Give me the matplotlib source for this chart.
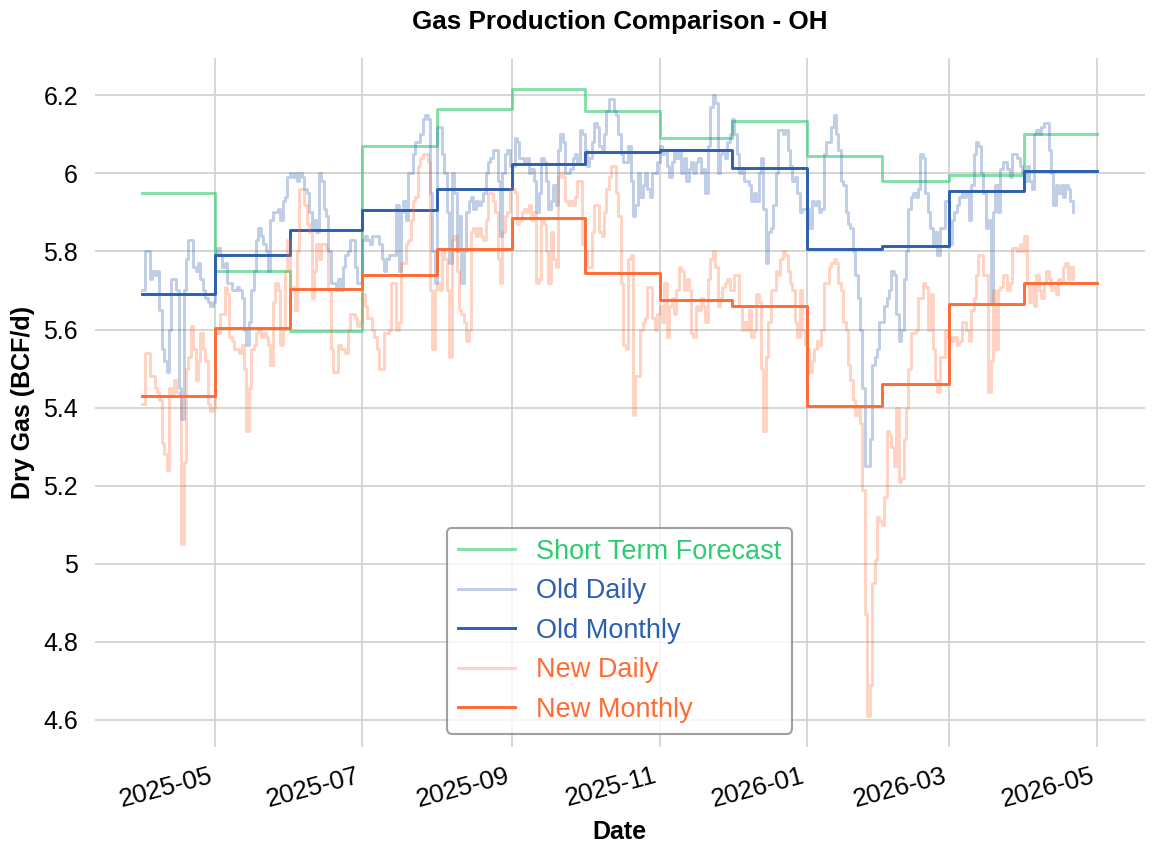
import numpy as np
import pandas as pd
import matplotlib
matplotlib.use("Agg")
import matplotlib.pyplot as plt
import matplotlib.dates as mdates
from matplotlib.ticker import FuncFormatter

plt.rcParams['font.family'] = ['Liberation Sans', 'DejaVu Sans']

# miesiące (początek) + wartości miesięczne
months = pd.date_range('2025-04-01', '2026-04-01', freq='MS')
stf_monthly = [5.95, 5.75, 5.595, 6.07, 6.165, 6.215, 6.16, 6.09, 6.135, 6.045, 5.98, 5.995, 6.10]
old_monthly = [5.69, 5.79, 5.855, 5.905, 5.96, 6.025, 6.055, 6.06, 6.015, 5.805, 5.815, 5.955, 6.005]
new_monthly = [5.43, 5.605, 5.705, 5.74, 5.805, 5.885, 5.745, 5.675, 5.66, 5.405, 5.46, 5.665, 5.72]

# dzienne, od 2025-04-01
old_daily = [
    # kwi 2025
    5.70, 5.80, 5.80, 5.73, 5.75, 5.74, 5.75, 5.65, 5.55, 5.52, 5.49, 5.60, 5.73, 5.73, 5.70,
    5.45, 5.37, 5.70, 5.78, 5.83, 5.83, 5.76, 5.75, 5.77, 5.73, 5.70, 5.68, 5.67, 5.66, 5.67,
    # maj
    5.79, 5.81, 5.79, 5.76, 5.77, 5.72, 5.72, 5.70, 5.70, 5.71, 5.70, 5.68, 5.60, 5.56, 5.62,
    5.70, 5.75, 5.83, 5.86, 5.84, 5.82, 5.80, 5.75, 5.88, 5.90, 5.90, 5.91, 5.88, 5.93, 5.94, 5.99,
    # cze
    6.00, 5.99, 6.00, 5.98, 6.00, 5.99, 5.96, 5.95, 5.90, 5.86, 5.88, 5.85, 6.00, 5.98, 5.91,
    5.89, 5.80, 5.72, 5.72, 5.70, 5.73, 5.70, 5.76, 5.79, 5.80, 5.83, 5.83, 5.76, 5.72, 5.72,
    # lip
    5.83, 5.84, 5.83, 5.82, 5.84, 5.84, 5.84, 5.82, 5.78, 5.75, 5.78, 5.79, 5.79, 5.79, 5.92,
    5.75, 5.90, 5.93, 5.88, 6.00, 6.00, 6.05, 6.08, 6.08, 6.10, 6.14, 6.15, 6.14, 5.95, 5.80, 5.72,
    # sie
    6.12, 6.12, 6.05, 6.00, 5.90, 5.77, 6.00, 5.95, 5.80, 5.89, 5.72, 5.80, 5.90, 5.93, 5.94,
    5.91, 5.93, 5.92, 5.93, 5.95, 6.00, 6.03, 6.04, 6.06, 6.06, 5.98, 5.84, 6.00, 6.05, 6.06, 6.02,
    # wrz
    6.02, 6.09, 6.08, 6.04, 6.04, 6.03, 6.04, 6.00, 6.01, 5.98, 5.90, 5.95, 6.04, 6.03, 5.98,
    5.91, 5.93, 5.97, 5.92, 6.06, 6.10, 6.08, 6.00, 6.00, 6.01, 6.04, 6.05, 6.03, 6.11, 6.10,
    # paź
    6.06, 6.02, 6.04, 6.08, 6.13, 6.12, 6.07, 6.06, 6.10, 6.16, 6.19, 6.19, 6.16, 6.15, 6.10,
    6.05, 6.03, 6.03, 6.07, 5.98, 5.89, 5.92, 6.00, 5.94, 5.97, 6.00, 5.96, 5.94, 6.00, 6.00, 6.03,
    # lis
    6.07, 6.05, 6.06, 6.02, 5.99, 6.03, 6.06, 6.04, 6.06, 6.00, 6.04, 5.98, 6.01, 6.03, 6.00,
    6.03, 6.04, 6.00, 6.01, 5.95, 6.07, 6.17, 6.20, 6.18, 6.00, 6.05, 6.06, 6.04, 6.08, 6.10,
    # gru
    6.14, 6.10, 6.05, 6.00, 6.01, 5.98, 5.98, 5.97, 5.93, 5.95, 5.93, 6.00, 6.04, 5.91, 5.77,
    5.85, 5.86, 5.92, 6.00, 6.11, 6.11, 6.10, 6.11, 6.06, 6.02, 5.98, 5.99, 5.95, 5.90, 5.91, 5.91,
    # sty 2026
    5.91, 5.86, 5.93, 5.92, 5.93, 5.90, 5.91, 6.05, 6.08, 6.08, 6.12, 6.15, 6.10, 6.06, 5.98,
    5.97, 5.90, 5.87, 5.86, 5.80, 5.74, 5.68, 5.60, 5.45, 5.25, 5.25, 5.32, 5.51, 5.53, 5.55, 5.62,
    # lut
    5.62, 5.66, 5.68, 5.70, 5.75, 5.74, 5.64, 5.57, 5.60, 5.73, 5.80, 5.91, 5.94, 5.95,
    5.94, 5.96, 6.05, 6.04, 5.95, 5.90, 5.86, 5.82, 5.85, 5.79, 5.86, 5.86, 5.93, 5.93,
    # mar
    5.82, 5.88, 5.90, 5.92, 5.94, 5.95, 5.94, 5.95, 5.88, 5.97, 6.05, 6.08, 6.07, 6.00, 5.95,
    5.86, 5.88, 5.67, 5.90, 5.97, 5.90, 6.01, 6.03, 6.03, 6.01, 5.99, 6.05, 6.05, 6.04, 6.02, 6.00,
    # kwi
    5.98, 6.02, 5.98, 5.96, 6.10, 6.11, 6.10, 6.12, 6.13, 6.13, 6.06, 6.00, 5.92, 5.97, 5.95,
    5.97, 5.94, 5.97, 5.96, 5.93, 5.90,
]

new_daily = [
    # kwi 2025
    5.41, 5.54, 5.54, 5.48, 5.48, 5.45, 5.44, 5.42, 5.31, 5.28, 5.24, 5.45, 5.43, 5.47, 5.44,
    5.43, 5.05, 5.26, 5.50, 5.53, 5.61, 5.55, 5.47, 5.52, 5.59, 5.55, 5.52, 5.41, 5.39, 5.40,
    # maj
    5.60, 5.59, 5.64, 5.64, 5.71, 5.69, 5.58, 5.57, 5.55, 5.55, 5.54, 5.56, 5.50, 5.34, 5.45,
    5.55, 5.56, 5.59, 5.60, 5.58, 5.59, 5.58, 5.56, 5.51, 5.67, 5.72, 5.70, 5.56, 5.60, 5.75, 5.83,
    # cze
    5.70, 5.71, 5.65, 5.80, 5.96, 5.96, 5.92, 5.87, 5.85, 5.68, 5.75, 5.82, 5.78, 5.82, 5.82,
    5.81, 5.70, 5.55, 5.49, 5.49, 5.56, 5.55, 5.55, 5.54, 5.60, 5.64, 5.64, 5.63, 5.61, 5.62,
    # lip
    5.69, 5.66, 5.63, 5.63, 5.60, 5.58, 5.55, 5.50, 5.50, 5.59, 5.59, 5.60, 5.72, 5.72, 5.60,
    5.62, 5.77, 5.77, 5.82, 5.83, 5.88, 5.93, 5.94, 6.02, 6.04, 6.05, 6.05, 6.03, 5.70, 5.55, 5.70,
    # sie
    5.72, 5.70, 5.80, 5.78, 5.70, 5.53, 5.83, 5.84, 5.75, 5.65, 5.64, 5.62, 5.57, 5.60, 5.85,
    5.86, 5.84, 5.86, 5.84, 5.83, 5.88, 5.95, 5.95, 5.93, 5.90, 5.78, 5.72, 5.85, 5.89, 5.90, 5.96,
    # wrz
    5.96, 5.95, 5.87, 5.88, 5.90, 5.91, 5.90, 5.92, 5.88, 5.90, 5.72, 5.73, 5.88, 5.87, 5.80,
    5.72, 5.85, 5.78, 5.76, 5.99, 6.00, 5.99, 5.93, 5.92, 5.93, 5.92, 5.94, 5.98, 5.98, 5.82,
    # paź
    5.80, 5.76, 5.76, 5.85, 5.92, 5.92, 5.85, 5.84, 5.90, 5.96, 5.99, 6.02, 6.02, 5.95, 5.89,
    5.72, 5.56, 5.55, 5.78, 5.79, 5.38, 5.48, 5.48, 5.60, 5.62, 5.63, 5.71, 5.71, 5.63, 5.60, 5.64,
    # lis
    5.66, 5.62, 5.72, 5.58, 5.66, 5.68, 5.64, 5.70, 5.76, 5.75, 5.70, 5.73, 5.70, 5.59, 5.58,
    5.66, 5.65, 5.68, 5.66, 5.62, 5.73, 5.78, 5.80, 5.76, 5.66, 5.68, 5.71, 5.72, 5.73, 5.70,
    # gru
    5.70, 5.74, 5.74, 5.66, 5.60, 5.62, 5.60, 5.65, 5.58, 5.60, 5.69, 5.67, 5.50, 5.34, 5.53,
    5.62, 5.70, 5.70, 5.75, 5.74, 5.78, 5.80, 5.79, 5.75, 5.72, 5.70, 5.62, 5.58, 5.70, 5.60, 5.56,
    # sty 2026
    5.55, 5.49, 5.52, 5.55, 5.57, 5.56, 5.60, 5.72, 5.72, 5.76, 5.77, 5.78, 5.77, 5.72, 5.70,
    5.62, 5.60, 5.51, 5.47, 5.42, 5.38, 5.40, 5.36, 5.19, 4.87, 4.61, 4.69, 4.95, 5.01, 5.12, 5.11,
    # lut
    5.10, 5.17, 5.34, 5.33, 5.30, 5.25, 5.40, 5.21, 5.22, 5.32, 5.40, 5.50, 5.59, 5.59,
    5.60, 5.68, 5.68, 5.72, 5.71, 5.60, 5.69, 5.55, 5.47, 5.44, 5.53, 5.53, 5.60, 5.58,
    # mar
    5.58, 5.57, 5.58, 5.56, 5.57, 5.62, 5.62, 5.60, 5.57, 5.65, 5.68, 5.74, 5.79, 5.79, 5.74,
    5.74, 5.44, 5.52, 5.70, 5.55, 5.70, 5.71, 5.74, 5.74, 5.70, 5.72, 5.81, 5.81, 5.80, 5.82, 5.80,
    # kwi
    5.84, 5.72, 5.67, 5.72, 5.66, 5.74, 5.70, 5.68, 5.72, 5.75, 5.73, 5.70, 5.71, 5.69, 5.73,
    5.72, 5.76, 5.77, 5.73, 5.76, 5.73,
]

days_old = pd.date_range('2025-04-01', periods=len(old_daily), freq='D')
days_new = pd.date_range('2025-04-01', periods=len(new_daily), freq='D')

# schodki miesięczne do końca kwietnia 2026
month_edges = list(months) + [pd.Timestamp('2026-05-01')]
def steps(vals):
    return list(vals) + [vals[-1]]

green = '#2ecc71'
blue = '#2c5fae'
orange = '#ff6b35'

fig = plt.figure(figsize=(7.7, 5.7), dpi=150)
ax = fig.add_axes([0.082, 0.126, 0.909, 0.806])

ax.plot(month_edges, steps(stf_monthly), drawstyle='steps-post', color=green, alpha=0.6, lw=1.4, label='Short Term Forecast')
ax.plot(days_old, old_daily, drawstyle='steps-post', color=blue, alpha=0.3, lw=1.4, label='Old Daily')
ax.plot(month_edges, steps(old_monthly), drawstyle='steps-post', color=blue, lw=1.4, label='Old Monthly')
ax.plot(days_new, new_daily, drawstyle='steps-post', color=orange, alpha=0.3, lw=1.4, label='New Daily')
ax.plot(month_edges, steps(new_monthly), drawstyle='steps-post', color=orange, lw=1.4, label='New Monthly')

ax.set_title('Gas Production Comparison - OH', fontsize=12.5, fontweight='bold', pad=14)
ax.set_xlabel('Date', fontsize=12, fontweight='bold')
ax.set_ylabel('Dry Gas (BCF/d)', fontsize=12, fontweight='bold')

ax.xaxis.set_major_locator(mdates.MonthLocator(bymonth=[1, 3, 5, 7, 9, 11]))
ax.xaxis.set_major_formatter(mdates.DateFormatter('%Y-%m'))
ax.set_yticks(np.arange(4.6, 6.21, 0.2))
ax.yaxis.set_major_formatter(FuncFormatter(lambda v, p: f'{v:.1f}'.rstrip('0').rstrip('.')))
ax.tick_params(length=0, pad=8, labelsize=12)
ax.tick_params(axis='x', labelsize=12.5)
plt.setp(ax.get_xticklabels(), rotation=15, ha='right')

ax.grid(True, color='#d0d0d0', lw=0.8)
for s in ax.spines.values():
    s.set_visible(False)

leg = ax.legend(loc='lower center', fontsize=13, labelspacing=0.5, handlelength=2.1,
                handletextpad=0.8, edgecolor='#888888', framealpha=0.8)
for txt, c in zip(leg.get_texts(), [green, blue, blue, orange, orange]):
    txt.set_color(c)

fig.savefig('out.png', dpi=150)
